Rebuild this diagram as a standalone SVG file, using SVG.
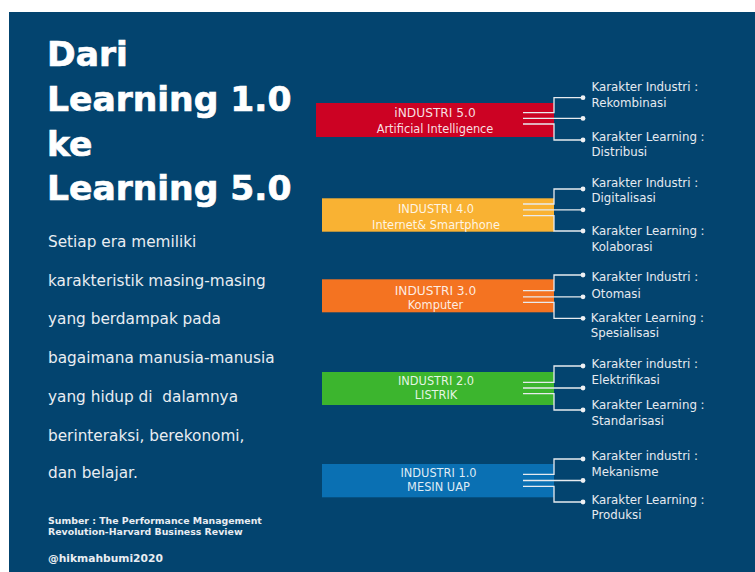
<svg xmlns="http://www.w3.org/2000/svg" width="755" height="572" viewBox="0 0 755 572">
  <style>
    .title { font-family: "DejaVu Sans", "Liberation Sans", sans-serif; font-weight: bold; font-size: 34.5px; fill: #ffffff; stroke: #ffffff; stroke-width: 0.7; }
    .body { font-family: "DejaVu Sans", "Liberation Sans", sans-serif; font-size: 15.3px; fill: #e9edf2; }
    .src { font-family: "DejaVu Sans", "Liberation Sans", sans-serif; font-weight: bold; font-size: 9.4px; fill: #e9edf2; }
    .bar-text { font-family: "DejaVu Sans", "Liberation Sans", sans-serif; font-size: 11.4px; fill: #ffffff; fill-opacity: 0.88; text-anchor: middle; }
    .label { font-family: "DejaVu Sans", "Liberation Sans", sans-serif; font-size: 11.8px; fill: #e6eaf0; }
    .wire { fill: none; stroke: #e8ebef; stroke-width: 1.3; }
    .dot { fill: #eef0f3; }
  </style>

  <!-- page background -->
  <rect x="0" y="0" width="755" height="572" fill="#ffffff"/>
  <rect x="9" y="12" width="746" height="560" fill="#03446f"/>

  <!-- heading and intro -->
  <g id="heading">
    <text class="title" x="47" y="66">Dari</text>
    <text class="title" x="47" y="111">Learning 1.0</text>
    <text class="title" x="47" y="155.5">ke</text>
    <text class="title" x="47" y="200">Learning 5.0</text>
  </g>
  <g id="intro">
    <text class="body" x="48" y="247.3">Setiap era memiliki</text>
    <text class="body" x="48" y="285.7">karakteristik masing-masing</text>
    <text class="body" x="48" y="324">yang berdampak pada</text>
    <text class="body" x="48" y="363.3">bagaimana manusia-manusia</text>
    <text class="body" x="48" y="401.7" xml:space="preserve">yang hidup di  dalamnya</text>
    <text class="body" x="48" y="440.7">berinteraksi, berekonomi,</text>
    <text class="body" x="48" y="478.3">dan belajar.</text>
  </g>
  <g id="source">
    <text class="src" x="48" y="524.3">Sumber : The Performance Management</text>
    <text class="src" x="48" y="535">Revolution-Harvard Business Review</text>
    <text class="src" x="48" y="562.3" style="font-size:10.7px">@hikmahbumi2020</text>
  </g>

  <!-- industry bars -->
  <g id="industri-5">
    <rect x="316" y="103" width="238" height="34" fill="#cc0223"/>
    <text class="bar-text" x="435" y="117.3" style="font-size:12.2px">iNDUSTRI 5.0</text>
    <text class="bar-text" x="435" y="133">Artificial Intelligence</text>
  </g>
  <g id="industri-4">
    <rect x="322" y="198.3" width="232" height="33.4" fill="#f9b233"/>
    <text class="bar-text" x="436" y="213.3">INDUSTRI 4.0</text>
    <text class="bar-text" x="436" y="228.7">Internet&amp; Smartphone</text>
  </g>
  <g id="industri-3">
    <rect x="322" y="279.3" width="232" height="33" fill="#f47321"/>
    <text class="bar-text" x="435.5" y="294.7" style="font-size:12.2px">INDUSTRI 3.0</text>
    <text class="bar-text" x="435.5" y="309">Komputer</text>
  </g>
  <g id="industri-2">
    <rect x="322" y="372" width="232" height="33" fill="#3cb52e"/>
    <text class="bar-text" x="436" y="385">INDUSTRI 2.0</text>
    <text class="bar-text" x="436" y="399.3">LISTRIK</text>
  </g>
  <g id="industri-1">
    <rect x="322" y="464" width="232" height="33.3" fill="#0a70b3"/>
    <text class="bar-text" x="438.5" y="476.7">INDUSTRI 1.0</text>
    <text class="bar-text" x="438.5" y="491">MESIN UAP</text>
  </g>

  <!-- characteristic labels -->
  <g id="labels-5">
    <text class="label" x="591.5" y="90.7">Karakter Industri :</text>
    <text class="label" x="591.5" y="106.7">Rekombinasi</text>
    <text class="label" x="591.5" y="141">Karakter Learning :</text>
    <text class="label" x="591.5" y="155.7">Distribusi</text>
  </g>
  <g id="labels-4">
    <text class="label" x="591.5" y="186.7">Karakter Industri :</text>
    <text class="label" x="591.5" y="202.3">Digitalisasi</text>
    <text class="label" x="591.5" y="235">Karakter Learning :</text>
    <text class="label" x="591.5" y="251">Kolaborasi</text>
  </g>
  <g id="labels-3">
    <text class="label" x="591.5" y="281">Karakter Industri :</text>
    <text class="label" x="591.5" y="297.7">Otomasi</text>
    <text class="label" x="590.8" y="321.7">Karakter Learning :</text>
    <text class="label" x="590.8" y="336.7">Spesialisasi</text>
  </g>
  <g id="labels-2">
    <text class="label" x="591.5" y="367.7">Karakter industri :</text>
    <text class="label" x="591.5" y="384">Elektrifikasi</text>
    <text class="label" x="591.5" y="409">Karakter Learning :</text>
    <text class="label" x="591.5" y="425">Standarisasi</text>
  </g>
  <g id="labels-1">
    <text class="label" x="591.5" y="460">Karakter industri :</text>
    <text class="label" x="591.5" y="475.7">Mekanisme</text>
    <text class="label" x="591.5" y="504">Karakter Learning :</text>
    <text class="label" x="591.5" y="519.3">Produksi</text>
  </g>

  <!-- branching connectors: three lines leave each bar and fan out to the labels -->
  <g id="connectors">
    <path class="wire" d="M523 112.7 H554 V97.7 H583 M523 118.4 H583 M523 124 H554 V140 H583"/>
    <path class="wire" d="M523 204 H554 V189 H583 M523 209.8 H583 M523 215.7 H554 V231 H583"/>
    <path class="wire" d="M523 290.7 H554 V275 H583 M523 296.8 H583 M523 302.3 H554 V318.3 H583"/>
    <path class="wire" d="M523 382.3 H554 V366 H583 M523 388 H583 M523 393.7 H554 V410 H583"/>
    <path class="wire" d="M523 474.3 H554 V459 H583 M523 480.5 H583 M523 486.3 H554 V502 H583"/>
    <circle class="dot" cx="583" cy="97.7" r="2.4"/>
    <circle class="dot" cx="583" cy="118.4" r="2.4"/>
    <circle class="dot" cx="583" cy="140" r="2.4"/>
    <circle class="dot" cx="583" cy="189" r="2.4"/>
    <circle class="dot" cx="583" cy="209.8" r="2.4"/>
    <circle class="dot" cx="583" cy="231" r="2.4"/>
    <circle class="dot" cx="583" cy="275" r="2.4"/>
    <circle class="dot" cx="583" cy="296.8" r="2.4"/>
    <circle class="dot" cx="583" cy="318.3" r="2.4"/>
    <circle class="dot" cx="583" cy="366" r="2.4"/>
    <circle class="dot" cx="583" cy="388" r="2.4"/>
    <circle class="dot" cx="583" cy="410" r="2.4"/>
    <circle class="dot" cx="583" cy="459" r="2.4"/>
    <circle class="dot" cx="583" cy="480.5" r="2.4"/>
    <circle class="dot" cx="583" cy="502" r="2.4"/>
  </g>
</svg>
